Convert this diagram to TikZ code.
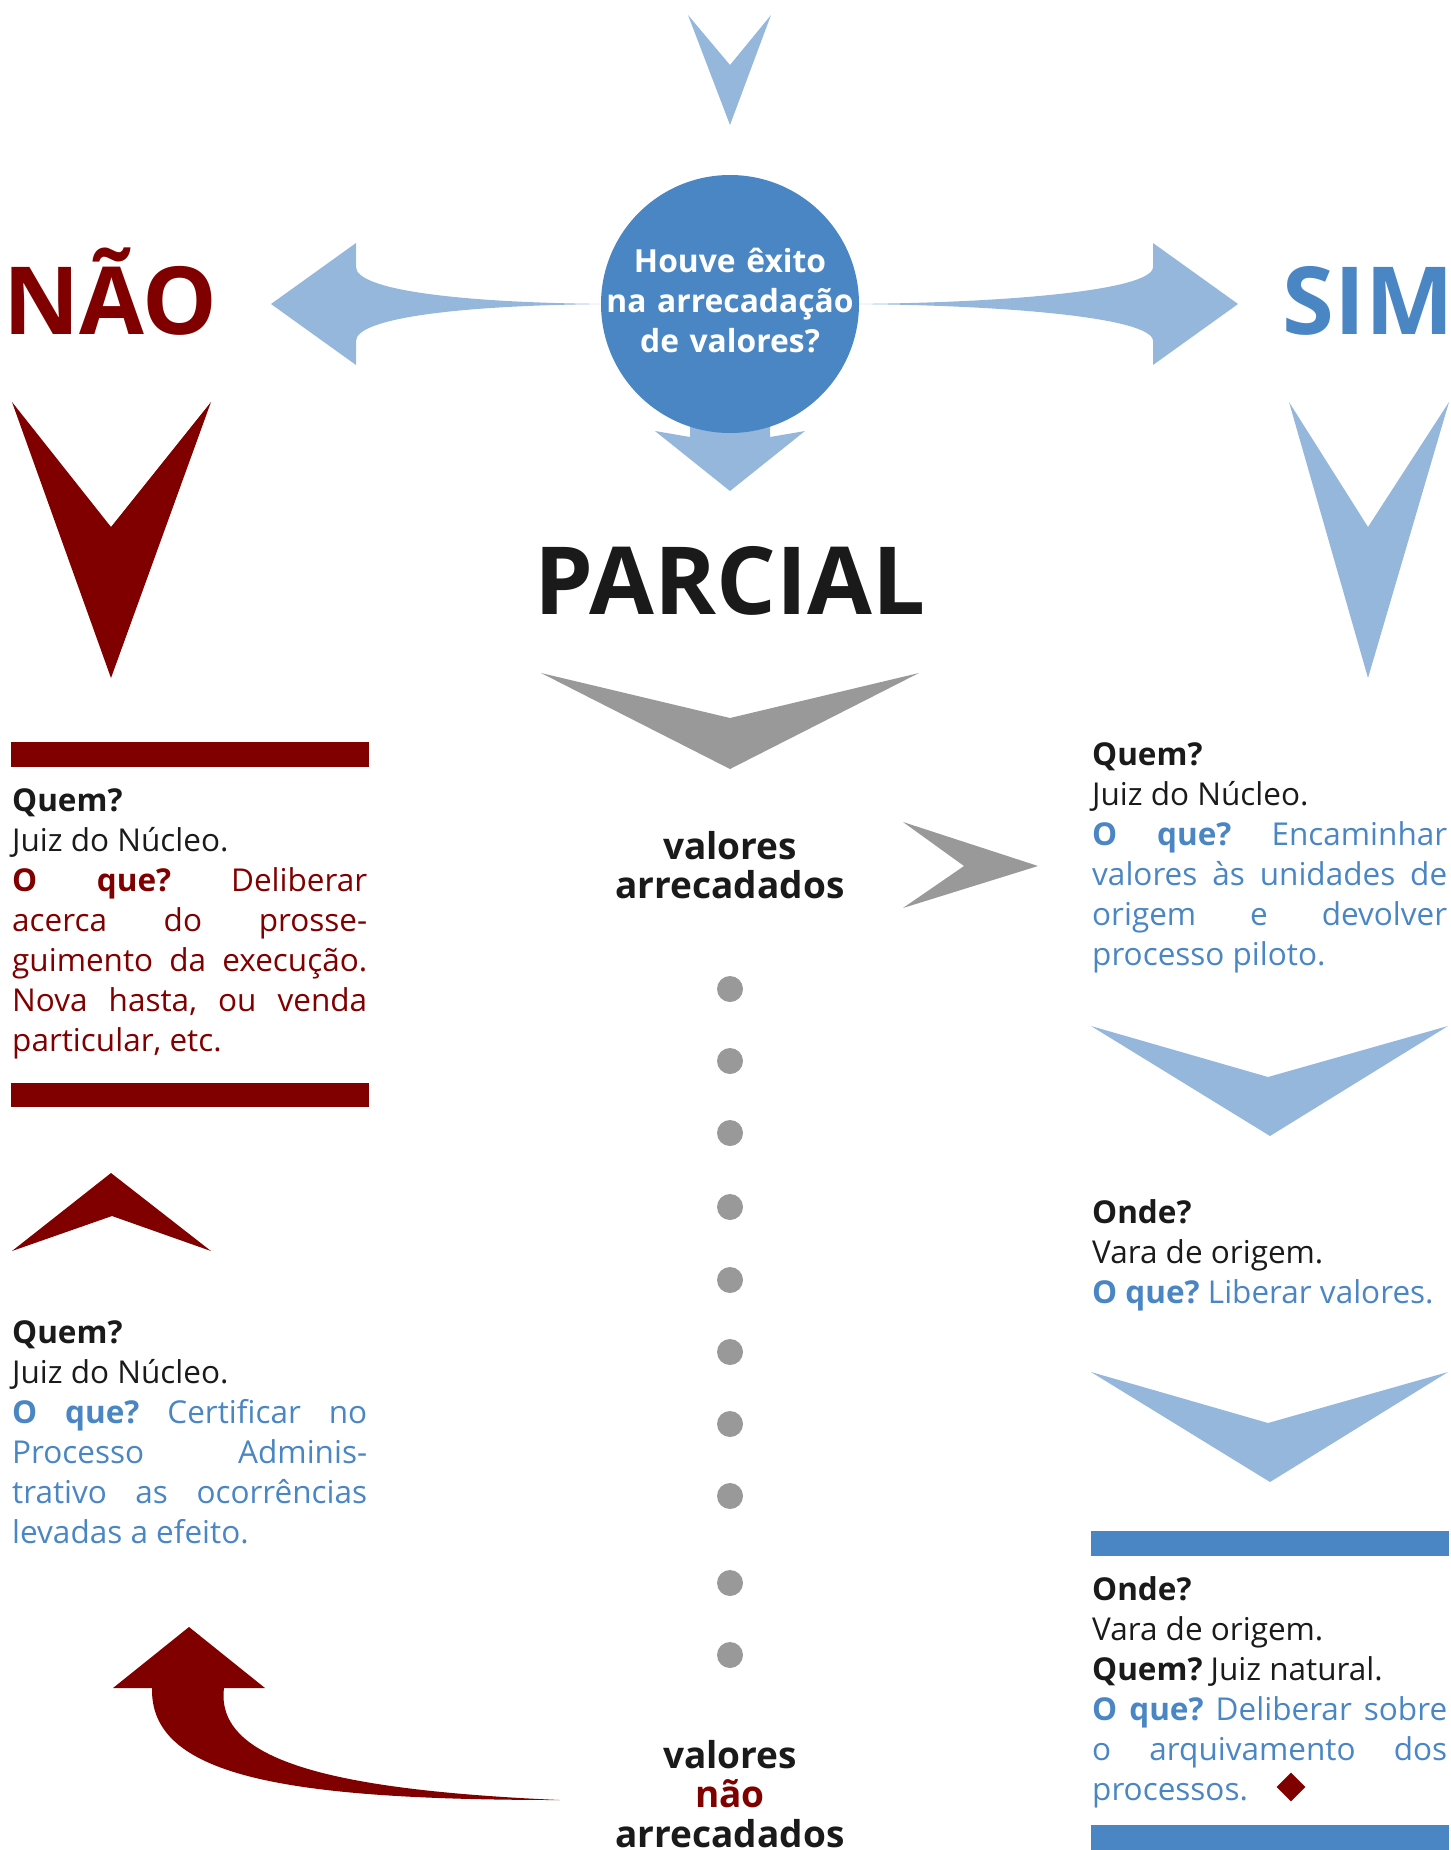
\documentclass[tikz,border=0pt]{standalone}
\usepackage{fontspec}
\setmainfont{Open Sans}
\usetikzlibrary{shapes.geometric}
\definecolor{dred}{HTML}{800000}
\definecolor{sblue}{HTML}{4A86C3}
\definecolor{lblue}{HTML}{95B7DC}
\definecolor{mgray}{HTML}{999999}
\definecolor{txt}{HTML}{1A1A1A}
\newcommand{\jl}[1]{\makebox[\linewidth][s]{#1}}
\tikzset{
  body/.style={anchor=base west, inner sep=0pt, text width=355pt, align=justify,
    font=\fontsize{31.5}{40}\selectfont\frenchspacing, text=txt},
  big/.style={inner sep=0pt, font=\fontsize{94}{100}\selectfont\bfseries},
  mid/.style={inner sep=0pt, anchor=base, text width=320pt, align=center,
    font=\fontsize{37}{39.5}\selectfont\bfseries, text=txt},
  dot/.style={circle, fill=mgray, minimum size=26pt, inner sep=0pt},
  lbshape/.style={fill=lblue},
  drshape/.style={fill=dred},
  grshape/.style={fill=mgray},
}
\begin{document}
\begin{tikzpicture}[x=1pt,y=-1pt]
\useasboundingbox (0,0) rectangle (1451,1850);

% top chevron
\fill[lbshape] (688,15) -- (730,65) -- (771,15) -- (730,125) -- cycle;

% left and right arrows from the circle
\fill[lbshape] (271,304) -- (356,243) -- (356,267)
  .. controls (356,290) and (460,303) .. (612,304)
  .. controls (460,305) and (356,318) .. (356,341) -- (356,365) -- cycle;
\fill[lbshape] (1238,304) -- (1153,243) -- (1153,267)
  .. controls (1153,290) and (1010,303) .. (848,304)
  .. controls (1010,305) and (1153,318) .. (1153,341) -- (1153,365) -- cycle;
% down arrow under circle
\fill[lbshape] (690,370) -- (690,437) -- (655,431) -- (730,491) -- (805,431)
  -- (770,437) -- (770,370) -- cycle;

% circle
\node[circle, fill=sblue, minimum size=258pt, inner sep=0pt] (q) at (730,304) {};
\node[anchor=base, inner sep=0pt, text width=260pt, align=center,
  font=\fontsize{31.8}{40}\selectfont\bfseries, text=white] (qt) at (730,272)
  {Houve êxito\\na arrecadação\\de valores?};

% big words
\node[big, anchor=base west, text=dred] (nao) at (3,334) {NÃO};
\node[big, anchor=base west, text=sblue] (sim) at (1282,334) {SIM};
\node[big, anchor=base, text=txt] (parcial) at (730,614) {PARCIAL};

% big chevrons
\fill[drshape] (12,402) -- (111,527) -- (211,402) -- (111,678) -- cycle;
\fill[lbshape] (1289,402) -- (1368,527) -- (1449,402) -- (1368,678) -- cycle;
\fill[grshape] (541,673) -- (730,718) -- (919,673) -- (730,769) -- cycle;
\fill[grshape] (903,822) -- (964,866) -- (903,908) -- (1038,866) -- cycle;

% left column
\fill[drshape] (11,742) rectangle (369,767);
\node[body] (l1) at (12,811) {\textbf{Quem?}\\
  Juiz do Núcleo.\\
  \color{dred}\jl{\textbf{O que?} Deliberar}\\
  \jl{acerca do prosse-}\\
  \jl{guimento da execução.}\\
  \jl{Nova hasta, ou venda}\\
  particular, etc.};
\fill[drshape] (11,1083) rectangle (369,1107);
\fill[drshape] (12,1251) -- (112,1216) -- (211,1251) -- (111,1173) -- cycle;
\node[body] (l2) at (12,1343) {\textbf{Quem?}\\
  Juiz do Núcleo.\\
  \color{sblue}\jl{\textbf{O que?} Certificar no}\\
  \jl{Processo Adminis-}\\
  \jl{trativo as ocorrências}\\
  levadas a efeito.};
\fill[drshape] (189,1627) -- (265,1688) -- (224,1688)
  .. controls (215,1760) and (330,1790) .. (560,1800)
  .. controls (280,1800) and (150,1775) .. (152,1688) -- (113,1688) -- cycle;

% middle column
\node[mid] (va) at (730,859) {valores\\arrecadados};
\foreach \yy [count=\i] in {989,1061,1133,1207,1280,1352,1424,1496,1583,1655}
  \node[dot] (d\i) at (730,\yy) {};
\node[mid] (vna) at (730,1768) {valores\\{\color{dred}não}\\arrecadados};

% right column
\node[body] (r1) at (1092,765) {\textbf{Quem?}\\
  Juiz do Núcleo.\\
  \color{sblue}\jl{\textbf{O que?} Encaminhar}\\
  \jl{valores às unidades de}\\
  \jl{origem e devolver}\\
  processo piloto.};
\fill[lbshape] (1091,1026) -- (1268,1077) -- (1448,1026) -- (1270,1136) -- cycle;
\node[body] (r2) at (1092,1223) {\textbf{Onde?}\\
  Vara de origem.\\
  {\color{sblue}\textbf{O que?} Liberar valores.}};
\fill[lbshape] (1091,1372) -- (1268,1423) -- (1448,1372) -- (1270,1482) -- cycle;
\fill[fill=sblue] (1091,1531) rectangle (1449,1556);
\node[body] (r3) at (1092,1600) {\textbf{Onde?}\\
  Vara de origem.\\
  \textbf{Quem?} Juiz natural.\\
  \color{sblue}\jl{\textbf{O que?} Deliberar sobre}\\
  \jl{o arquivamento dos}\\
  processos.};
\node[diamond, fill=dred, minimum size=29pt, inner sep=0pt] (dm) at (1291,1787) {};
\fill[fill=sblue] (1091,1825) rectangle (1449,1850);
\end{tikzpicture}
\end{document}
